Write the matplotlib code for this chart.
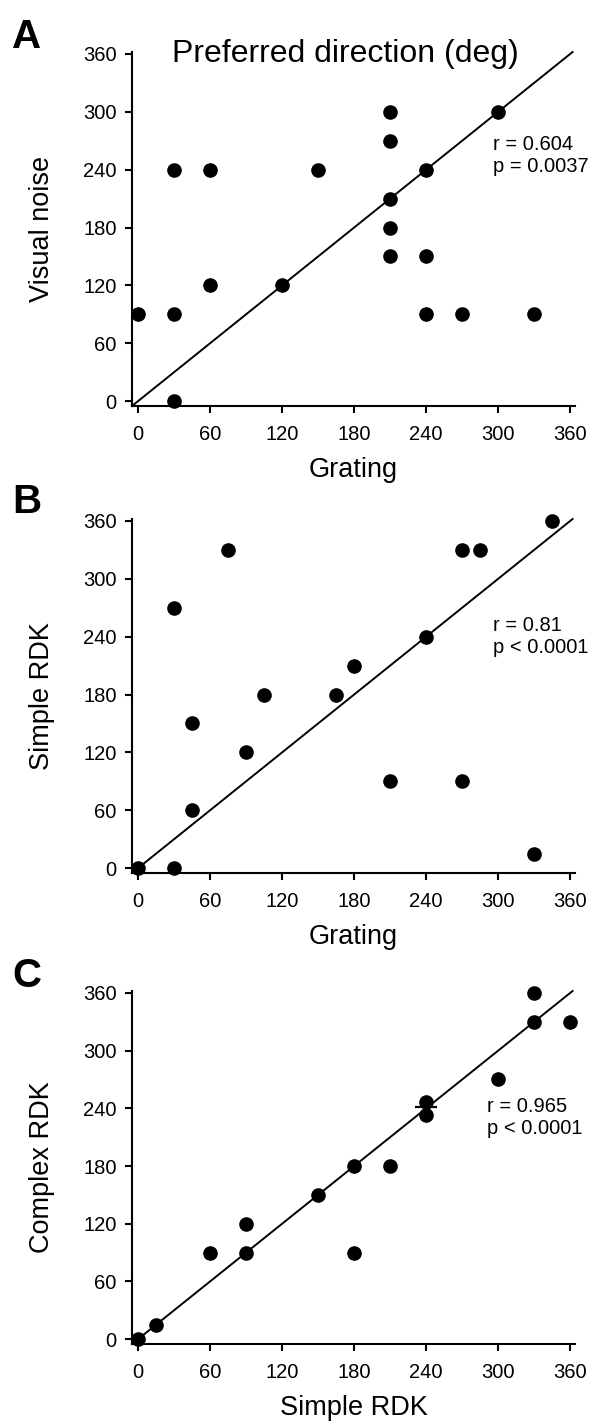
import numpy as np
import matplotlib.pyplot as plt

plt.rcParams['font.family'] = ['Liberation Sans', 'DejaVu Sans']

# Panel A: grating vs visual noise
a_x = [0, 30, 30, 30, 60, 60, 120, 150, 210, 210, 210, 210, 210, 240, 240, 240, 270, 300, 330]
a_y = [90, 90, 240, 0, 240, 120, 120, 240, 300, 270, 210, 180, 150, 240, 150, 90, 90, 300, 90]

# Panel B: grating vs simple RDK
b_x = [0, 30, 30, 45, 45, 75, 90, 105, 165, 180, 210, 240, 270, 285, 270, 330, 345]
b_y = [0, 0, 270, 60, 150, 330, 120, 180, 180, 210, 90, 240, 330, 330, 90, 15, 360]

# Panel C: simple RDK vs complex RDK
c_x = [0, 15, 60, 90, 90, 150, 180, 180, 210, 240, 240, 300, 330, 330, 360]
c_y = [0, 15, 90, 90, 120, 150, 180, 90, 180, 247, 233, 270, 360, 330, 330]
c_mark = (240, 241)

ticks = [0, 60, 120, 180, 240, 300, 360]

panels = [
    ('A', a_x, a_y, 'Grating', 'Visual noise', ['r = 0.604', 'p = 0.0037']),
    ('B', b_x, b_y, 'Grating', 'Simple RDK', ['r = 0.81', 'p < 0.0001']),
    ('C', c_x, c_y, 'Simple RDK', 'Complex RDK', ['r = 0.965', 'p < 0.0001']),
]

W, H = 592, 1424
fig = plt.figure(figsize=(W / 100, H / 100), dpi=100)

# axes boxes in pixels: (left, top, right, bottom)
boxes = [(132, 52, 575, 406), (132, 519, 575, 873), (132, 991, 575, 1344)]
letter_y = [18, 483, 957]
stats_pos = [(296, 255), (296, 240), (291, 231)]

for i, (letter, xs, ys, xlab, ylab, stats) in enumerate(panels):
    l, t, r, b = boxes[i]
    ax = fig.add_axes([l / W, 1 - b / H, (r - l) / W, (b - t) / H])
    ax.set_xlim(-5, 364)
    ax.set_ylim(-5, 362)
    ax.plot([-5, 362], [-5, 362], color='black', lw=1.4, clip_on=False, zorder=2)
    ax.plot(xs, ys, 'o', color='black', markersize=9.5, clip_on=False, zorder=3)
    if letter == 'C':
        ax.plot(*c_mark, marker='_', color='black', markersize=16, mew=1.6, zorder=3)
    for s in ['top', 'right']:
        ax.spines[s].set_visible(False)
    for s in ['left', 'bottom']:
        ax.spines[s].set_linewidth(1.5)
    ax.set_xticks(ticks)
    ax.set_yticks(ticks)
    ax.tick_params(direction='out', length=5, width=1.5, labelsize=14.5)
    ax.tick_params(axis='x', pad=9)
    ax.tick_params(axis='y', pad=6)
    ax.set_xlabel(xlab, fontsize=19.5, labelpad=9)
    ax.set_ylabel(ylab, fontsize=19.5, labelpad=20)
    sx, sy = stats_pos[i]
    ax.text(sx, sy, stats[0] + '\n' + stats[1], fontsize=14.5, va='center',
            linespacing=1.2)
    fig.text(12 / W, 1 - letter_y[i] / H, letter, fontsize=29, fontweight='bold',
             va='top', ha='left')

fig.text(345 / W, 1 - 62 / H, 'Preferred direction (deg)', fontsize=23,
         ha='center', va='baseline')

fig.savefig('out.png', dpi=100)
